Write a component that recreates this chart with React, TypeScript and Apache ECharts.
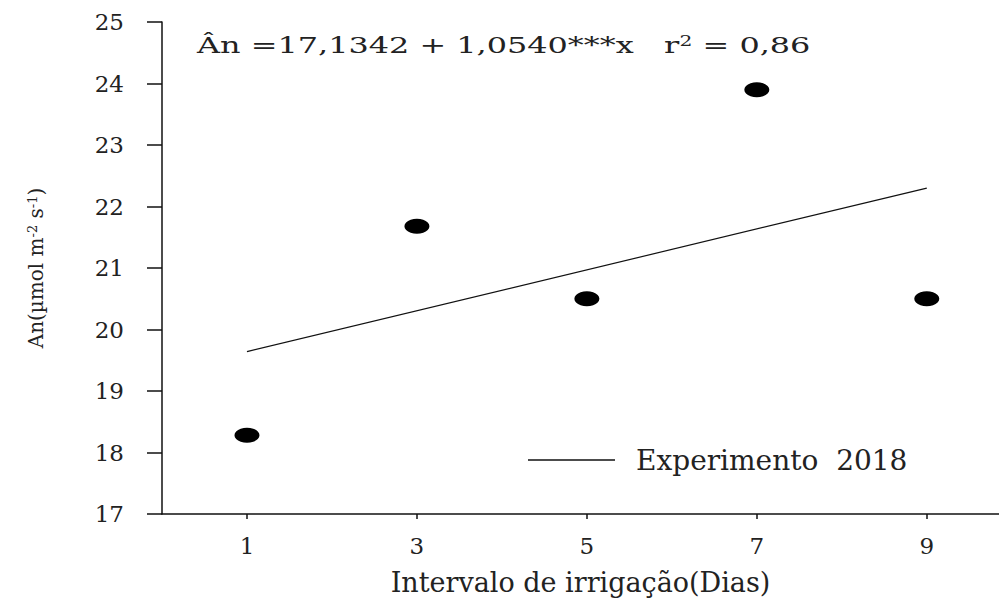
import React, { useEffect, useRef } from "react";
import * as echarts from "echarts";

const intervals = [1, 3, 5, 7, 9];
const anValues = [18.28, 21.68, 20.5, 23.9, 20.5];
const fitX = [1, 9];
const fitY = [19.64, 22.3];
const yTicks = [17, 18, 19, 20, 21, 22, 23, 24, 25];
const legendName = "Experimento  2018";
const FONT = "DejaVu Serif";

export default function App() {
  const ref = useRef<HTMLDivElement>(null);
  useEffect(() => {
    if (!ref.current) return;
    const chart = echarts.init(ref.current, null, { renderer: "svg" });
    chart.setOption({
      animation: false,
      backgroundColor: "#ffffff",
      grid: { left: 162, right: 0, top: 22, bottom: 88, containLabel: false },
      xAxis: {
        type: "value",
        min: 0,
        max: 9.85,
        name: "Intervalo de irrigação(Dias)",
        nameLocation: "middle",
        nameGap: 55,
        nameTextStyle: { fontFamily: FONT, fontSize: 27, color: "#222" },
        axisLine: { show: true, lineStyle: { color: "#111", width: 1.5 } },
        axisTick: { show: true, length: 5, customValues: intervals, lineStyle: { color: "#111", width: 1.5 } },
        axisLabel: { customValues: intervals, margin: 20, fontFamily: FONT, fontSize: 23, color: "#222" },
        splitLine: { show: false },
      },
      yAxis: {
        type: "value",
        min: yTicks[0],
        max: yTicks[yTicks.length - 1],
        interval: 1,
        name: "An(µmol m{sup|-2} s{sup|-1})",
        nameLocation: "middle",
        nameGap: 116,
        nameTextStyle: {
          fontFamily: FONT,
          fontSize: 20,
          color: "#222",
          rich: { sup: { fontFamily: FONT, fontSize: 13, verticalAlign: "top", color: "#222" } },
        },
        axisLine: { show: true, lineStyle: { color: "#111", width: 1.5 } },
        axisTick: { show: true, length: 15, lineStyle: { color: "#111", width: 1.5 } },
        axisLabel: { margin: 38, fontFamily: FONT, fontSize: 23, color: "#222" },
        splitLine: { show: false },
      },
      legend: {
        data: [legendName],
        left: 528,
        top: 446,
        padding: 0,
        itemWidth: 87,
        itemHeight: 1.3,
        icon: "rect",
        textStyle: { fontFamily: FONT, fontSize: 28, color: "#222", padding: [0, 0, 0, 16] },
        itemStyle: { color: "#111", borderWidth: 0 },
      },
      graphic: [
        {
          type: "text",
          x: 197,
          y: 34,
          scaleX: 1.45,
          style: {
            text: "{a|Ân =17,1342 + 1,0540***x   r}{s|2}{a| = 0,86}",
            rich: {
              a: { fontFamily: FONT, fontSize: 22, fill: "#222" },
              s: { fontFamily: FONT, fontSize: 14, fill: "#222", verticalAlign: "top" },
            },
          },
        },
      ],
      series: [
        {
          name: legendName,
          type: "line",
          data: fitX.map((x, i) => [x, fitY[i]]),
          symbol: "none",
          lineStyle: { color: "#111", width: 1.2 },
          itemStyle: { color: "#111" },
          z: 2,
        },
        {
          name: "An",
          type: "scatter",
          data: intervals.map((x, i) => [x, anValues[i]]),
          symbol: "circle",
          symbolSize: [25, 15],
          itemStyle: { color: "#000", opacity: 1 },
          z: 3,
        },
      ],
    });
    return () => chart.dispose();
  }, []);
  return <div ref={ref} style={{ width: 999, height: 602, position: "absolute", left: 0, top: 0 }} />;
}
